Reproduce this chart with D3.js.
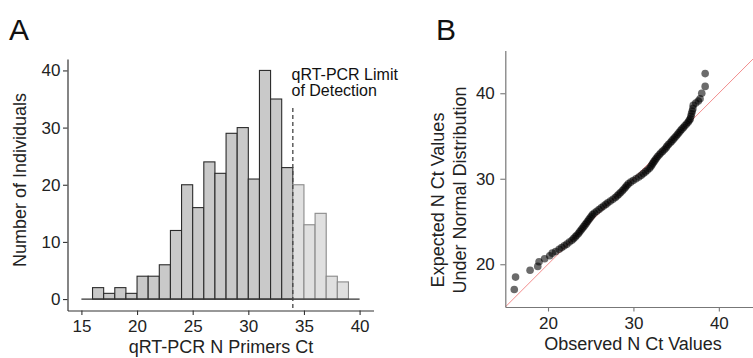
<!DOCTYPE html>
<html>
<head>
<meta charset="utf-8">
<script src="https://cdn.jsdelivr.net/npm/d3@7"></script>
<style>
  body { margin: 0; background: #fff; }
  text { font-family: "Liberation Sans", Arial, sans-serif; }
</style>
</head>
<body>
<div id="chart"></div>
<script>
// Panel A: histogram of Ct values (1-unit bins, lower edge)
const binStarts = [16, 17, 18, 19, 20, 21, 22, 23, 24, 25, 26, 27, 28, 29, 30, 31, 32, 33, 34, 35, 36, 37, 38];
const binCounts = [2, 1, 2, 1, 4, 4, 6, 12, 20, 16, 24, 22, 29, 30, 21, 40, 35, 23, 20, 13, 15, 4, 3];
const limitOfDetection = 34;
const histXTicks = [15, 20, 25, 30, 35, 40];
const histYTicks = [0, 10, 20, 30, 40];

// Panel B: Q-Q points
const observedCt = [
  16.05, 16.2, 17.9, 18.8, 18.95, 19.6, 20.2, 20.5, 20.9, 21.3, 21.6, 21.9, 22.2, 22.5, 22.8,
  23.0, 23.19, 23.37, 23.56, 23.71, 23.87, 24.02, 24.18, 24.33, 24.48, 24.62, 24.77, 24.92,
  25.07, 25.22, 25.43, 25.7, 25.97, 26.23, 26.5, 26.77, 27.0, 27.3, 27.6, 27.88, 28.1, 28.3,
  28.5, 28.7, 28.89, 29.06, 29.23, 29.4, 29.67, 29.97, 30.3, 30.63, 30.92, 31.16, 31.4, 31.62,
  31.85, 32.02, 32.15, 32.27, 32.4, 32.54, 32.68, 32.84, 33.02, 33.2, 33.4, 33.6, 33.8, 33.92,
  34.1, 34.3, 34.48, 34.65, 34.83, 35.0, 35.18, 35.34, 35.5, 35.67, 35.85, 36.02, 36.21, 36.4,
  36.52, 36.65, 36.73, 36.8, 36.88, 36.96, 37.0, 37.3, 37.6, 37.8, 38.0, 38.4, 38.4
];
const expectedCt = [
  17.05, 18.5, 19.3, 19.75, 20.3, 20.65, 21.0, 21.3, 21.5, 21.75, 21.95, 22.15, 22.35, 22.6, 22.8,
  23.0, 23.2, 23.4, 23.6, 23.8, 24.0, 24.2, 24.4, 24.6, 24.8, 25.0, 25.2, 25.4,
  25.6, 25.8, 26.0, 26.2, 26.4, 26.6, 26.8, 27.0, 27.2, 27.4, 27.6, 27.8, 28.0, 28.2,
  28.4, 28.6, 28.8, 29.0, 29.2, 29.4, 29.6, 29.8, 30.0, 30.2, 30.4, 30.6, 30.8, 31.0,
  31.2, 31.4, 31.6, 31.8, 32.0, 32.2, 32.4, 32.6, 32.8, 33.0, 33.2, 33.4, 33.6, 33.8,
  34.0, 34.2, 34.4, 34.6, 34.8, 35.0, 35.2, 35.4, 35.6, 35.8, 36.0, 36.2, 36.4, 36.6,
  36.8, 37.0, 37.3, 37.6, 37.9, 38.2, 38.6, 38.85, 39.1, 39.35, 40.0, 40.8, 42.3
];
const qqXTicks = [20, 30, 40];
const qqYTicks = [20, 30, 40];

(function () {
  const W = 753;
  const H = 358;

  const svg = d3.select("#chart").append("svg")
    .attr("width", W)
    .attr("height", H);

  function styleAxis(g, color) {
    g.select(".domain").attr("stroke", color).attr("stroke-width", 1.2);
    g.selectAll(".tick line").attr("stroke", color).attr("stroke-width", 1.1);
    g.selectAll(".tick text")
      .attr("fill", "#222")
      .attr("font-size", 17)
      .attr("font-family", "Liberation Sans, Arial, sans-serif");
  }

  // ---------------- Panel A ----------------
  const ax = d3.scaleLinear().domain([13.75, 41.25]).range([67.5, 373.5]);
  const ay = d3.scaleLinear().domain([-2, 42]).range([310.5, 59]);

  const bars = binStarts.map((s, i) => ({ x0: s, x1: s + 1, n: binCounts[i] }));

  svg.append("g")
    .selectAll("rect")
    .data(bars)
    .join("rect")
    .attr("x", d => ax(d.x0))
    .attr("y", d => ay(d.n))
    .attr("width", d => ax(d.x1) - ax(d.x0))
    .attr("height", d => ay(0) - ay(d.n))
    .attr("fill", d => d.x0 >= limitOfDetection ? "#e0e0e0" : "#c9c9c9")
    .attr("stroke", d => d.x0 >= limitOfDetection ? "#8a8a8a" : "#2b2b2b")
    .attr("stroke-width", 1.1);

  // zero line
  svg.append("line")
    .attr("x1", ax(15)).attr("x2", ax(40))
    .attr("y1", ay(0)).attr("y2", ay(0))
    .attr("stroke", "#333")
    .attr("stroke-width", 1.2);

  // limit of detection
  svg.append("line")
    .attr("x1", ax(limitOfDetection)).attr("x2", ax(limitOfDetection))
    .attr("y1", 108).attr("y2", 310)
    .attr("stroke", "#444")
    .attr("stroke-width", 1.3)
    .attr("stroke-dasharray", "4,3");

  svg.append("text")
    .attr("x", 291.5)
    .attr("y", 79.5)
    .attr("font-size", 16)
    .attr("fill", "#111")
    .text("qRT-PCR Limit");
  svg.append("text")
    .attr("x", 291.5)
    .attr("y", 96)
    .attr("font-size", 16)
    .attr("fill", "#111")
    .text("of Detection");

  const axA = svg.append("g")
    .attr("transform", "translate(0,310.5)")
    .call(d3.axisBottom(ax).tickValues(histXTicks).tickSize(4.5).tickSizeOuter(0).tickPadding(4.5));
  styleAxis(axA, "#333");

  const ayA = svg.append("g")
    .attr("transform", "translate(67.5,0)")
    .call(d3.axisLeft(ay).tickValues(histYTicks).tickSize(4.5).tickSizeOuter(0).tickPadding(2.5));
  styleAxis(ayA, "#333");

  svg.append("text")
    .attr("x", 221)
    .attr("y", 352.5)
    .attr("text-anchor", "middle")
    .attr("font-size", 18)
    .attr("fill", "#222")
    .text("qRT-PCR N Primers Ct");

  svg.append("text")
    .attr("transform", "translate(25.5,180) rotate(-90)")
    .attr("text-anchor", "middle")
    .attr("font-size", 18)
    .attr("fill", "#222")
    .text("Number of Individuals");

  svg.append("text")
    .attr("x", 9)
    .attr("y", 40)
    .attr("font-size", 30)
    .attr("fill", "#111")
    .text("A");

  // ---------------- Panel B ----------------
  const bx = d3.scaleLinear().domain([15, 44]).range([505.3, 753]);
  const by = d3.scaleLinear().domain([15, 45]).range([307, 50.5]);

  // y = x reference line
  svg.append("line")
    .attr("x1", bx(15)).attr("y1", by(15))
    .attr("x2", bx(44)).attr("y2", by(44))
    .attr("stroke", "#f28c8c")
    .attr("stroke-width", 1);

  const pts = observedCt.map((o, i) => ({ o: o, e: expectedCt[i] }));

  svg.append("g")
    .selectAll("circle")
    .data(pts)
    .join("circle")
    .attr("cx", d => bx(d.o))
    .attr("cy", d => by(d.e))
    .attr("r", 3.8)
    .attr("fill", "#000")
    .attr("fill-opacity", 0.58);

  const axB = svg.append("g")
    .attr("transform", "translate(0,307)")
    .call(d3.axisBottom(bx).tickValues(qqXTicks).tickSize(4.5).tickSizeOuter(0).tickPadding(5));
  styleAxis(axB, "#777");

  const ayB = svg.append("g")
    .attr("transform", "translate(505.3,0)")
    .call(d3.axisLeft(by).tickValues(qqYTicks).tickSize(5).tickSizeOuter(0).tickPadding(5.5));
  styleAxis(ayB, "#777");

  svg.append("text")
    .attr("x", 633)
    .attr("y", 350)
    .attr("text-anchor", "middle")
    .attr("font-size", 18)
    .attr("fill", "#222")
    .text("Observed N Ct Values");

  svg.append("text")
    .attr("transform", "translate(443.5,200) rotate(-90)")
    .attr("text-anchor", "middle")
    .attr("font-size", 18)
    .attr("fill", "#222")
    .text("Expected N Ct Values");
  svg.append("text")
    .attr("transform", "translate(465.5,190) rotate(-90)")
    .attr("text-anchor", "middle")
    .attr("font-size", 18)
    .attr("fill", "#222")
    .text("Under Normal Distribution");

  svg.append("text")
    .attr("x", 436)
    .attr("y", 40)
    .attr("font-size", 30)
    .attr("fill", "#111")
    .text("B");
})();
</script>
</body>
</html>
